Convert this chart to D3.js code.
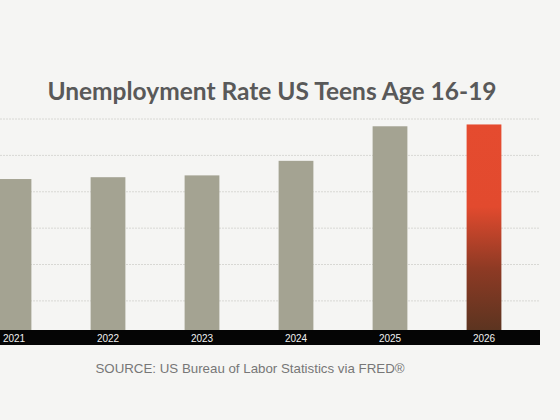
<!DOCTYPE html>
<html>
<head>
<meta charset="utf-8">
<script src="https://cdn.jsdelivr.net/npm/d3@7"></script>
<style>
  body { margin: 0; background: #f5f5f3; }
</style>
</head>
<body>
<svg id="chart" width="560" height="420"></svg>
<script>
// data
var years = ["2021", "2022", "2023", "2024", "2025", "2026"];
var rates = [8.7, 8.8, 8.9, 9.7, 11.6, 11.7];
var gridValues = [2, 4, 6, 8, 10, 12];

var svg = d3.select("#chart");
svg.append("rect").attr("width", 560).attr("height", 420).attr("fill", "#f5f5f3");

var x = d3.scaleBand().domain(years).range([-33, 531]).paddingInner(0.63).paddingOuter(0.315);
var y = d3.scaleLinear().domain([0.4, 12]).range([330, 119]);

// gradient for the highlighted bar
var grad = svg.append("defs").append("linearGradient")
  .attr("id", "hot").attr("x1", 0).attr("y1", 0).attr("x2", 0).attr("y2", 1);
grad.append("stop").attr("offset", "0%").attr("stop-color", "#e54b2f");
grad.append("stop").attr("offset", "40%").attr("stop-color", "#e24a2e");
grad.append("stop").attr("offset", "70%").attr("stop-color", "#8e3a24");
grad.append("stop").attr("offset", "100%").attr("stop-color", "#5c3420");

// gridlines
svg.selectAll(".grid").data(gridValues).enter().append("line")
  .attr("x1", 0).attr("x2", 540)
  .attr("y1", (d) => y(d)).attr("y2", (d) => y(d))
  .attr("stroke", "#d8d8d4").attr("stroke-dasharray", "2,1");

// bars
svg.selectAll(".bar").data(rates).enter().append("rect")
  .attr("x", (d, i) => x(years[i]))
  .attr("width", x.bandwidth())
  .attr("y", (d) => y(d))
  .attr("height", (d) => y(0.4) - y(d))
  .attr("fill", (d, i) => i == years.length - 1 ? "url(#hot)" : "#a4a392");

// black axis band
svg.append("rect").attr("x", 0).attr("y", 330).attr("width", 540).attr("height", 15).attr("fill", "#050505");
svg.selectAll(".yr").data(years).enter().append("text")
  .attr("x", (d) => Math.max(x(d) + x.bandwidth() / 2, 14))
  .attr("y", 342)
  .attr("text-anchor", "middle")
  .attr("font-family", "Liberation Sans, Arial, sans-serif")
  .attr("font-size", 10)
  .attr("fill", "#f0f0f0")
  .text((d) => d);

svg.append("text")
  .attr("x", 272).attr("y", 100)
  .attr("text-anchor", "middle")
  .attr("font-family", "Lato, sans-serif")
  .attr("font-weight", "bold")
  .attr("font-size", 24.5)
  .attr("fill", "#595959")
  .text("Unemployment Rate US Teens Age 16-19");

svg.append("text")
  .attr("x", 250).attr("y", 373)
  .attr("text-anchor", "middle")
  .attr("font-family", "Liberation Sans, Arial, sans-serif")
  .attr("font-size", 13.3)
  .attr("fill", "#777")
  .text("SOURCE: US Bureau of Labor Statistics via FRED®");
</script>
</body>
</html>
